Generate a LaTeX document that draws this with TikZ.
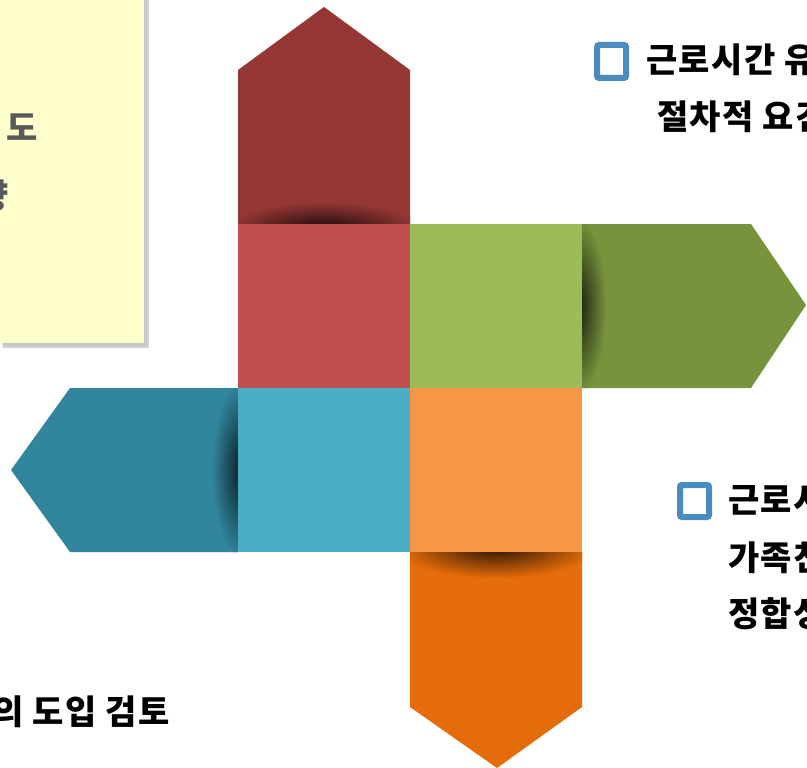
\documentclass[tikz,border=0pt]{standalone}
\usepackage{fontspec}
\newfontfamily\kr{Noto Sans CJK KR}[LetterSpace=4]
\definecolor{redA}{HTML}{953735}
\definecolor{redS}{HTML}{C0504D}
\definecolor{greenA}{HTML}{77933C}
\definecolor{greenS}{HTML}{9BBB59}
\definecolor{blueA}{HTML}{31859C}
\definecolor{blueS}{HTML}{4BACC6}
\definecolor{orangeA}{HTML}{E46C0A}
\definecolor{orangeS}{HTML}{F79646}
\definecolor{noteY}{HTML}{FFFFCC}
\definecolor{bulletB}{HTML}{4A8CBF}
\definecolor{grayT}{HTML}{595959}
\tikzset{
  txt/.style={inner sep=0pt, font=\kr\bfseries\fontsize{34}{40}\selectfont, text=black},
  graytxt/.style={inner sep=0pt, font=\kr\bfseries\fontsize{34}{40}\selectfont, text=grayT},
  bulletbox/.style={draw=bulletB, line width=6pt, rounded corners=2pt, fill=white},
}
\begin{document}
\begin{tikzpicture}[x=1pt,y=-1pt]
\useasboundingbox (0,0) rectangle (807,768);
\fill[white] (0,0) rectangle (807,768);
% note box with shadow
\fill[black!35, opacity=0.5] (3,-5) rectangle (149,348);
\fill[black!25, opacity=0.5] (2,-5) rectangle (147,346);
\fill[noteY] (-5,-5) rectangle (144,343);
\node[graytxt, anchor=base east] (n1) at (38,141) {도};
\node[graytxt, anchor=base east] (n2) at (9,208) {향};
% arrows
\fill[redA] (238,224) -- (238,70) -- (324,7) -- (410,70) -- (410,224) -- cycle;
\fill[greenA] (582,224) -- (751,224) -- (806,305) -- (751,388) -- (582,388) -- cycle;
\fill[blueA] (238,388) -- (70,388) -- (11,470) -- (70,552) -- (238,552) -- cycle;
\fill[orangeA] (410,552) -- (582,552) -- (582,707) -- (497,768) -- (410,707) -- cycle;
% shadows
\begin{scope}
\clip (238,224) -- (238,70) -- (324,7) -- (410,70) -- (410,224) -- cycle;
\shade[inner color=redA!20!black, outer color=redA] (324,228) ellipse (96 and 26);
\end{scope}
\begin{scope}
\clip (582,224) -- (751,224) -- (806,305) -- (751,388) -- (582,388) -- cycle;
\shade[inner color=greenA!20!black, outer color=greenA] (578,306) ellipse (28 and 88);
\end{scope}
\begin{scope}
\clip (238,388) -- (70,388) -- (11,470) -- (70,552) -- (238,552) -- cycle;
\shade[inner color=blueA!20!black, outer color=blueA] (242,470) ellipse (30 and 88);
\end{scope}
\begin{scope}
\clip (410,552) -- (582,552) -- (582,707) -- (497,768) -- (410,707) -- cycle;
\shade[inner color=orangeA!20!black, outer color=orangeA] (496,548) ellipse (98 and 30);
\end{scope}
% squares
\fill[redS] (238,224) rectangle (410,388);
\fill[greenS] (410,224) rectangle (582,388);
\fill[blueS] (238,388) rectangle (410,552);
\fill[orangeS] (410,388) rectangle (582,552);
% right top text
\draw[bulletbox] (597,45) rectangle (626,78);
\node[txt, anchor=base west] (t1) at (646,73) {근로시간 유};
\node[txt, anchor=base west] (t2) at (657,129) {절차적 요건};
% right bottom text
\draw[bulletbox] (680,485) rectangle (709,517);
\node[txt, anchor=base west] (t3) at (728,512) {근로시};
\node[txt, anchor=base west] (t4) at (728,570) {가족친};
\node[txt, anchor=base west] (t5) at (728,626) {정합성};
% bottom left
\node[txt, anchor=base east] (t6) at (170,724) {의 도입 검토};
\end{tikzpicture}
\end{document}
